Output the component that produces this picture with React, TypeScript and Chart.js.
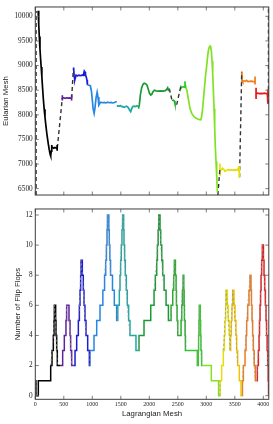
import React, { useEffect, useRef } from 'react';
import { Chart, registerables } from 'chart.js';
Chart.register(...registerables);

const W = 273;
const TOP_H = 202;
const BOT_H = 222;

// ---- tick labels ----
const lagTicks = [0, 500, 1000, 1500, 2000, 2500, 3000, 3500, 4000];
const eulTicks = [6500, 7000, 7500, 8000, 8500, 9000, 9500, 10000];
const flipTicks = [0, 2, 4, 6, 8, 10, 12];

// ---- top panel: Eularian mesh vs Lagrangian mesh ----
const eulDashLeftX = [14, 14];
const eulDashLeftY = [6370, 10110];
const eulBlackX = [50, 60, 70, 82, 94, 103, 115, 128, 141, 156, 170, 184, 200, 214, 228, 245, 260, 270, 280, 288, 288, 288, 290, 305, 325, 345, 365, 382, 382, 382, 386];
const eulBlackY = [10115, 9840, 9590, 9330, 9120, 8970, 8770, 8540, 8320, 8110, 7950, 7800, 7640, 7520, 7410, 7290, 7200, 7165, 7260, 7326, 7385, 7270, 7326, 7335, 7322, 7335, 7325, 7330, 7385, 7270, 7326];
const eulDash1X = [386, 474];
const eulDash1Y = [7326, 8341];
const eulPurpleX = [474, 474, 474, 476, 500, 525, 550, 575, 600, 625, 636, 636, 636, 638];
const eulPurpleY = [8341, 8395, 8290, 8341, 8345, 8335, 8345, 8338, 8342, 8336, 8340, 8395, 8290, 8341];
const eulDash2X = [638, 667];
const eulDash2Y = [8341, 8916];
const eulBlueX = [667, 672, 680, 690, 696, 705, 715, 726, 745, 765, 790, 810, 830, 842, 850, 860, 872, 880, 890, 901, 907, 913];
const eulBlueY = [8916, 8960, 8800, 8740, 8707, 8760, 8805, 8800, 8790, 8805, 8795, 8800, 8810, 8800, 8840, 8890, 8870, 8800, 8785, 8785, 8700, 8610];
const eulSkyX = [913, 940, 965, 985, 1000, 1015, 1032, 1048, 1065, 1085, 1100, 1115, 1130, 1150, 1180, 1210, 1240, 1270, 1300, 1330, 1360, 1390, 1415, 1430];
const eulSkyY = [8610, 8600, 8590, 8480, 8300, 8120, 8030, 8150, 8340, 8460, 8360, 8200, 8230, 8255, 8245, 8250, 8240, 8255, 8245, 8250, 8240, 8250, 8265, 8270];
const eulTealX = [1430, 1445, 1470, 1495, 1515, 1540, 1560, 1580, 1600, 1620, 1640, 1655, 1673, 1690, 1710, 1735, 1760, 1785, 1805];
const eulTealY = [8175, 8180, 8175, 8185, 8170, 8160, 8150, 8165, 8175, 8160, 8130, 8090, 8062, 8120, 8170, 8175, 8165, 8185, 8175];
const eulGreenX = [1810, 1825, 1845, 1866, 1890, 1910, 1935, 1960, 1985, 2005, 2025, 2045, 2065, 2088, 2120, 2160, 2200, 2240, 2280, 2305, 2322, 2334, 2351];
const eulGreenY = [8126, 8200, 8420, 8550, 8620, 8640, 8630, 8600, 8510, 8430, 8400, 8420, 8470, 8500, 8485, 8480, 8485, 8480, 8490, 8516, 8549, 8505, 8530];
const eulDash3X = [2351, 2398];
const eulDash3Y = [8530, 8290];
const eulGreen2X = [2398, 2420, 2440, 2450, 2465, 2480];
const eulGreen2Y = [8290, 8295, 8280, 8225, 8215, 8205];
const eulDash4X = [2480, 2551];
const eulDash4Y = [8205, 8569];
const eulLimeX = [2551, 2551, 2555, 2575, 2600, 2622, 2626, 2630, 2634, 2640];
const eulLimeY = [8569, 8520, 8575, 8560, 8570, 8560, 8680, 8600, 8560, 8540];
const eulChartX = [2640, 2656, 2685, 2714, 2744, 2775, 2802, 2830, 2860, 2885, 2902, 2915, 2930, 2948, 2965, 2985, 3007, 3022, 3035, 3050, 3065, 3078, 3088, 3100, 3112, 3124, 3135, 3147, 3158, 3170, 3182, 3195];
const eulChartY = [8540, 8517, 8321, 8126, 8028, 7975, 7944, 7925, 7911, 7900, 7898, 7950, 8062, 8290, 8516, 8780, 9004, 9175, 9297, 9370, 9395, 9370, 9297, 9100, 8842, 8480, 8126, 7730, 7345, 7050, 6760, 6420];
const eulDash5X = [3203, 3238];
const eulDash5Y = [6370, 6900];
const eulYellowX = [3239, 3239, 3239, 3241, 3260, 3287, 3310, 3327, 3350, 3386, 3420, 3450, 3474, 3500, 3532, 3550, 3561, 3570, 3579, 3579, 3579, 3581];
const eulYellowY = [6877, 7010, 6760, 6877, 6880, 6916, 6890, 6851, 6870, 6884, 6875, 6880, 6877, 6880, 6875, 6890, 6916, 6870, 6877, 6955, 6727, 6870];
const eulDash6X = [3583, 3621];
const eulDash6Y = [6730, 8874];
const eulOrangeX = [3621, 3625, 3632, 3640, 3660, 3685, 3708, 3730, 3760, 3790, 3820, 3843, 3854, 3854, 3854, 3856];
const eulOrangeY = [8874, 8680, 8700, 8678, 8690, 8680, 8700, 8675, 8680, 8685, 8675, 8680, 8680, 8776, 8614, 8680];
const eulRedX = [3872, 3872, 3872, 3874, 3900, 3930, 3960, 3990, 4020, 4050, 4070, 4080, 4080, 4080];
const eulRedY = [8452, 8549, 8321, 8432, 8440, 8430, 8436, 8430, 8440, 8432, 8436, 8436, 8516, 8223];
const eulDash7X = [4090, 4090];
const eulDash7Y = [8223, 10190];

// ---- bottom panel: number of flip flops (step data) ----
const flipBlackX = [10, 12, 53, 270, 293, 316, 328, 334, 357, 363, 375, 386, 445];
const flipBlackY = [1, 0, 1, 2, 3, 4, 5, 6, 5, 4, 3, 2, 2];
const flipPurpleX = [445, 480, 509, 538, 550, 591, 609, 620, 638, 665];
const flipPurpleY = [2, 3, 4, 5, 6, 5, 4, 3, 2, 2];
const flipBlueX = [665, 697, 726, 755, 773, 784, 796, 802, 825, 842, 854, 871, 889, 919, 948, 958];
const flipBlueY = [2, 3, 4, 5, 6, 7, 8, 9, 8, 7, 6, 5, 4, 3, 2, 2];
const flipSkyX = [958, 960, 1030, 1077, 1135, 1185, 1215, 1235, 1248, 1258, 1266, 1290, 1298, 1308, 1320, 1354, 1386, 1427, 1445];
const flipSkyY = [2, 3, 4, 5, 6, 7, 8, 9, 10, 11, 12, 11, 10, 9, 8, 7, 6, 5, 5];
const flipTealX = [1445, 1447, 1474, 1486, 1497, 1509, 1520, 1532, 1550, 1556, 1567, 1579, 1597, 1614, 1637, 1661, 1766, 1805];
const flipTealY = [5, 6, 7, 8, 9, 10, 11, 12, 11, 10, 9, 8, 7, 6, 5, 4, 3, 3];
const flipGreenX = [1805, 1819, 1907, 2025, 2083, 2106, 2130, 2142, 2155, 2165, 2188, 2200, 2218, 2235, 2259, 2294, 2335, 2364];
const flipGreenY = [3, 4, 5, 6, 7, 8, 9, 10, 11, 12, 11, 10, 9, 8, 7, 6, 5, 5];
const flipGreen2X = [2364, 2382, 2411, 2428, 2440, 2458, 2470, 2476, 2487, 2499, 2557, 2569, 2581, 2593, 2605, 2611, 2616, 2628, 2634, 2646];
const flipGreen2Y = [5, 6, 7, 8, 9, 8, 7, 6, 5, 4, 5, 6, 7, 8, 7, 6, 5, 4, 3, 3];
const flipLimeX = [2646, 2842, 2859, 2865, 2871, 2877, 2894, 2900, 2906, 2918, 2930];
const flipLimeY = [3, 2, 3, 4, 5, 6, 5, 4, 3, 2, 2];
const flipChartX = [2930, 3088, 3215, 3238];
const flipChartY = [2, 1, 0, 0];
const flipYellowX = [3238, 3242, 3269, 3298, 3316, 3328, 3340, 3346, 3369, 3386, 3404, 3416];
const flipYellowY = [0, 1, 2, 3, 4, 5, 6, 7, 6, 5, 4, 3];
const flipGoldX = [3416, 3427, 3439, 3451, 3463, 3486, 3504, 3521, 3533, 3550, 3579, 3609, 3632];
const flipGoldY = [3, 4, 5, 6, 7, 6, 5, 4, 3, 2, 1, 0, 0];
const flipOrangeX = [3632, 3634, 3650, 3679, 3697, 3708, 3726, 3749, 3767, 3784, 3792, 3802, 3813, 3825, 3840, 3860, 3883];
const flipOrangeY = [0, 1, 2, 3, 4, 5, 6, 7, 8, 7, 6, 5, 4, 3, 2, 1, 1];
const flipRedX = [3883, 3895, 3913, 3925, 3933, 3942, 3952, 3960, 3971, 3983, 4002, 4012, 4024, 4036, 4047, 4057, 4067, 4077, 4085, 4092];
const flipRedY = [1, 2, 3, 4, 5, 6, 7, 8, 9, 10, 9, 8, 7, 6, 5, 4, 3, 2, 1, 0];

// ---- styles ----
const C = {
  black: '#000000',
  purple: '#5e22a0',
  blue: '#1c1cd4',
  sky: '#2686e2',
  teal: '#1fa8a6',
  green: '#1a9a34',
  green2: '#26ae2a',
  lime: '#34c82a',
  chart: '#80e222',
  yellow: '#e6de0c',
  gold: '#f2c400',
  orange: '#f07c1a',
  red: '#e41a1a',
  dash: '#333333',
};

type Seg = { x: number[]; y: number[]; color: string; dash?: boolean };

const topSegs: Seg[] = [
  { x: eulDashLeftX, y: eulDashLeftY, color: C.dash, dash: true },
  { x: eulBlackX, y: eulBlackY, color: C.black },
  { x: eulDash1X, y: eulDash1Y, color: C.dash, dash: true },
  { x: eulPurpleX, y: eulPurpleY, color: C.purple },
  { x: eulDash2X, y: eulDash2Y, color: C.dash, dash: true },
  { x: eulBlueX, y: eulBlueY, color: C.blue },
  { x: eulSkyX, y: eulSkyY, color: C.sky },
  { x: eulTealX, y: eulTealY, color: C.teal },
  { x: eulGreenX, y: eulGreenY, color: C.green },
  { x: eulDash3X, y: eulDash3Y, color: C.dash, dash: true },
  { x: eulGreen2X, y: eulGreen2Y, color: C.green2 },
  { x: eulDash4X, y: eulDash4Y, color: C.dash, dash: true },
  { x: eulLimeX, y: eulLimeY, color: C.lime },
  { x: eulChartX, y: eulChartY, color: C.chart },
  { x: eulDash5X, y: eulDash5Y, color: C.dash, dash: true },
  { x: eulYellowX, y: eulYellowY, color: C.yellow },
  { x: eulDash6X, y: eulDash6Y, color: C.dash, dash: true },
  { x: eulOrangeX, y: eulOrangeY, color: C.orange },
  { x: eulRedX, y: eulRedY, color: C.red },
  { x: eulDash7X, y: eulDash7Y, color: C.dash, dash: true },
];

const botSegs: Seg[] = [
  { x: flipBlackX, y: flipBlackY, color: C.black },
  { x: flipPurpleX, y: flipPurpleY, color: C.purple },
  { x: flipBlueX, y: flipBlueY, color: C.blue },
  { x: flipSkyX, y: flipSkyY, color: C.sky },
  { x: flipTealX, y: flipTealY, color: C.teal },
  { x: flipGreenX, y: flipGreenY, color: C.green },
  { x: flipGreen2X, y: flipGreen2Y, color: C.green2 },
  { x: flipLimeX, y: flipLimeY, color: C.lime },
  { x: flipChartX, y: flipChartY, color: C.chart },
  { x: flipYellowX, y: flipYellowY, color: C.yellow },
  { x: flipGoldX, y: flipGoldY, color: C.gold },
  { x: flipOrangeX, y: flipOrangeY, color: C.orange },
  { x: flipRedX, y: flipRedY, color: C.red },
];

const toPts = (xs: number[], ys: number[]) => xs.map((x, i) => ({ x, y: ys[i] }));

const frameAndTicks = (xTicks: number[], yTicks: number[]) => ({
  id: 'frameAndTicks',
  afterDatasetsDraw(chart: any) {
    const { ctx, chartArea: a, scales } = chart;
    ctx.save();
    ctx.strokeStyle = '#707070';
    ctx.lineWidth = 0.9;
    ctx.beginPath();
    for (const v of xTicks) {
      const p = scales.x.getPixelForValue(v);
      ctx.moveTo(p, a.top);
      ctx.lineTo(p, a.top + 3.5);
      ctx.moveTo(p, a.bottom);
      ctx.lineTo(p, a.bottom - 3.5);
    }
    for (const v of yTicks) {
      const p = scales.y.getPixelForValue(v);
      ctx.moveTo(a.left, p);
      ctx.lineTo(a.left + 3.5, p);
      ctx.moveTo(a.right, p);
      ctx.lineTo(a.right - 3.5, p);
    }
    ctx.stroke();
    ctx.strokeStyle = '#3c3c3c';
    ctx.lineWidth = 1;
    ctx.strokeRect(a.left, a.top, a.right - a.left, a.bottom - a.top);
    ctx.restore();
  },
});

const SERIF = 'Liberation Serif';
const SANS = 'Liberation Sans';

export default function App() {
  const topRef = useRef<HTMLCanvasElement>(null);
  const botRef = useRef<HTMLCanvasElement>(null);

  useEffect(() => {
    const topChart = new Chart(topRef.current as HTMLCanvasElement, {
      type: 'line',
      data: {
        datasets: topSegs.map((s) => ({
          data: toPts(s.x, s.y),
          borderColor: s.color,
          borderWidth: s.dash ? 1.4 : 1.7,
          borderDash: s.dash ? [4, 3] : [],
          pointRadius: 0,
          fill: false,
          tension: 0,
        })),
      },
      options: {
        animation: false,
        responsive: false,
        events: [],
        layout: { padding: { left: 0, right: 4.2, top: 4.3, bottom: 2 } },
        plugins: { legend: { display: false }, tooltip: { enabled: false } },
        scales: {
          x: { type: 'linear', min: 0, max: 4096, display: false },
          y: {
            type: 'linear',
            min: 6370,
            max: 10190,
            afterFit: (s: any) => { s.width = 35.3; },
            afterBuildTicks: (s: any) => { s.ticks = eulTicks.map((value) => ({ value })); },
            grid: { display: false, drawTicks: false },
            border: { display: false },
            ticks: { font: { family: SERIF, size: 7.3 }, color: '#222', padding: 2.6, callback: (v: any) => String(v) },
            title: { display: true, text: 'Eularian Mesh', font: { family: SANS, size: 7.8 }, color: '#222', padding: { top: 1.4, bottom: 0 } },
          },
        },
      } as any,
      plugins: [frameAndTicks(lagTicks, eulTicks)],
    });

    const stepSets = botSegs.map((s) => ({
      data: toPts(s.x, s.y),
      borderColor: s.color,
      borderWidth: 1.5,
      stepped: true,
      pointRadius: 0,
      fill: false,
      order: 1,
    }));
    const dashSets = botSegs.map((s) => ({
      data: toPts(s.x, s.y),
      borderColor: 'rgba(150,150,150,0.75)',
      borderWidth: 1,
      borderDash: [2.5, 2],
      stepped: false,
      pointRadius: 0,
      fill: false,
      order: 0,
      segment: {
        borderColor: (ctx: any) =>
          ctx.p1.parsed.x - ctx.p0.parsed.x > 25 || ctx.p1.parsed.y === ctx.p0.parsed.y
            ? 'rgba(0,0,0,0)'
            : undefined,
      },
    }));

    const botChart = new Chart(botRef.current as HTMLCanvasElement, {
      type: 'line',
      data: { datasets: [...stepSets, ...dashSets] as any },
      options: {
        animation: false,
        responsive: false,
        events: [],
        layout: { padding: { left: 0, right: 4.2, top: 1, bottom: 0 } },
        plugins: { legend: { display: false }, tooltip: { enabled: false } },
        scales: {
          x: {
            type: 'linear',
            min: 0,
            max: 4096,
            afterFit: (s: any) => { s.height = 24.7; },
            afterBuildTicks: (s: any) => { s.ticks = lagTicks.map((value) => ({ value })); },
            grid: { display: false, drawTicks: false },
            border: { display: false },
            ticks: { font: { family: SERIF, size: 6 }, color: '#222', padding: 1.8, autoSkip: false, maxRotation: 0, minRotation: 0, callback: (v: any) => String(v) },
            title: { display: true, text: 'Lagrangian Mesh', font: { family: SANS, size: 7.8 }, color: '#222', padding: { top: 0, bottom: 5 } },
          },
          y: {
            type: 'linear',
            min: -0.24,
            max: 12.4,
            afterFit: (s: any) => { s.width = 35.3; },
            afterBuildTicks: (s: any) => { s.ticks = flipTicks.map((value) => ({ value })); },
            grid: { display: false, drawTicks: false },
            border: { display: false },
            ticks: { font: { family: SERIF, size: 7.3 }, color: '#222', padding: 2.6, callback: (v: any) => String(v) },
            title: { display: true, text: 'Number of Flip Flops', font: { family: SANS, size: 7.8 }, color: '#222', padding: { top: 12.8, bottom: 0 } },
          },
        },
      } as any,
      plugins: [frameAndTicks(lagTicks, flipTicks)],
    });

    return () => {
      topChart.destroy();
      botChart.destroy();
    };
  }, []);

  return (
    <div style={{ position: 'fixed', left: 0, top: 0, width: W, height: TOP_H + BOT_H, background: '#fff' }}>
      <canvas ref={topRef} width={W} height={TOP_H} style={{ position: 'absolute', left: 0, top: 0, width: W, height: TOP_H, display: 'block' }} />
      <canvas ref={botRef} width={W} height={BOT_H} style={{ position: 'absolute', left: 0, top: TOP_H, width: W, height: BOT_H, display: 'block' }} />
    </div>
  );
}
